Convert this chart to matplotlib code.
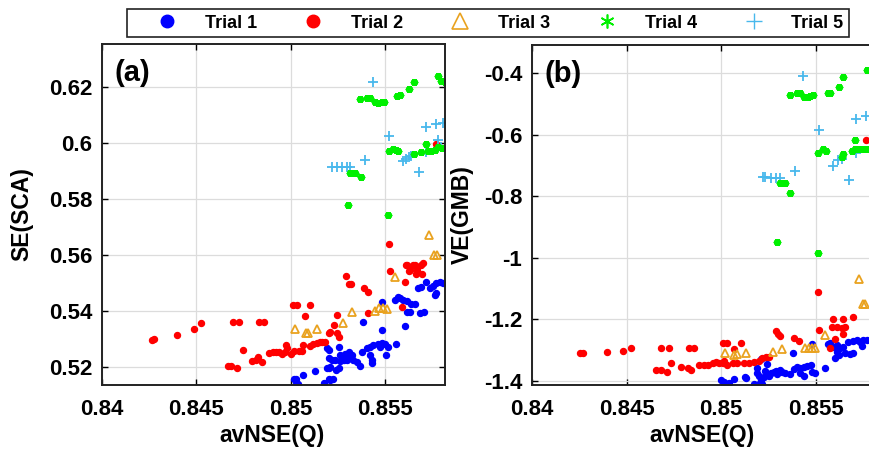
import matplotlib
matplotlib.use("Agg")
import matplotlib.pyplot as plt
from matplotlib.lines import Line2D
from matplotlib.ticker import FuncFormatter

plt.rcParams['font.family'] = ['Liberation Sans', 'DejaVu Sans']
plt.rcParams['font.weight'] = 'bold'

# ---- panel (a): avNSE(Q) vs SE(SCA) ----
t1a_x = [0.85018, 0.85026, 0.8503, 0.8504, 0.85063, 0.85128, 0.85175, 0.85202, 0.85202, 0.85202, 0.85202,
         0.85211, 0.85225, 0.85193, 0.85211, 0.85242, 0.85254,
         0.8522, 0.85237, 0.8526, 0.85272, 0.85284, 0.85298, 0.85316, 0.85333, 0.85351, 0.85365,
         0.85193, 0.85254, 0.85263, 0.85289, 0.85307, 0.85324,
         0.85377, 0.85404, 0.85421, 0.85439, 0.85465, 0.85483, 0.855, 0.85517, 0.85474,
         0.85421, 0.8543, 0.8543, 0.85483, 0.85505, 0.85558, 0.85386, 0.85483, 0.85605,
         0.85553, 0.8557, 0.85579, 0.85596, 0.85614, 0.85617, 0.85632, 0.8564, 0.85658, 0.85684, 0.85705,
         0.85675, 0.85693, 0.85716, 0.85737, 0.85754, 0.85772, 0.85789, 0.85807, 0.85763, 0.85772]
t1a_y = [0.5158, 0.5155, 0.5140, 0.5140, 0.5170, 0.5186, 0.5143, 0.5155, 0.5194, 0.5230, 0.5260,
         0.5152, 0.5155, 0.5194, 0.5200, 0.5188, 0.5194,
         0.5226, 0.5224, 0.5221, 0.5224, 0.5226, 0.5226, 0.5236, 0.5224, 0.5218, 0.5203,
         0.5266, 0.5269, 0.5242, 0.5245, 0.5254, 0.5242,
         0.5254, 0.5266, 0.5271, 0.5278, 0.5281, 0.5286, 0.5280, 0.5271, 0.5271,
         0.5242, 0.5224, 0.5212, 0.5331, 0.5242, 0.5281, 0.5361, 0.5432, 0.5345,
         0.5438, 0.5450, 0.5444, 0.5438, 0.5436, 0.5396, 0.5396, 0.5426, 0.5424, 0.5391, 0.5396,
         0.5480, 0.5484, 0.5504, 0.5480, 0.5488, 0.5500, 0.5504, 0.5500, 0.5456, 0.5462]

t2a_x = [0.84263, 0.84277, 0.844, 0.84486, 0.84526, 0.84696, 0.84724, 0.84833, 0.8486, 0.84667, 0.84684,
         0.84716, 0.84746, 0.84793, 0.84816, 0.84828, 0.84846,
         0.84886, 0.84904, 0.84921, 0.84939, 0.84956, 0.84968, 0.84982, 0.84974, 0.85, 0.85018,
         0.85044, 0.85061, 0.85067, 0.85105, 0.85119, 0.8514, 0.85167, 0.85184, 0.85202,
         0.85014, 0.85035, 0.85105, 0.85075,
         0.85295, 0.85309, 0.85321, 0.85389, 0.85412, 0.85412, 0.85246, 0.85228, 0.85211, 0.85246, 0.85254, 0.85158,
         0.85523, 0.85526, 0.85588, 0.85605, 0.8561, 0.85635, 0.85658, 0.85693, 0.85667, 0.85698, 0.85702,
         0.85617, 0.85646, 0.85628, 0.85663, 0.85772]
t2a_y = [0.5295, 0.5298, 0.5313, 0.5334, 0.5355, 0.5360, 0.5360, 0.5360, 0.5360, 0.5204, 0.5204,
         0.5194, 0.5260, 0.5221, 0.5226, 0.5234, 0.5218,
         0.5250, 0.5254, 0.5254, 0.5254, 0.5245, 0.5254, 0.5266, 0.5277, 0.5245, 0.5257,
         0.5257, 0.5257, 0.5277, 0.5274, 0.5281, 0.5286, 0.5289, 0.5289, 0.5321,
         0.5420, 0.5420, 0.5420, 0.5381,
         0.5524, 0.5495, 0.5495, 0.5480, 0.5468, 0.5393, 0.5385, 0.5349, 0.5325, 0.5319, 0.5307, 0.5289,
         0.5637, 0.5543, 0.5414, 0.5504, 0.5563, 0.5545, 0.5563, 0.5563, 0.5545, 0.5533, 0.5569,
         0.5563, 0.5563, 0.5543, 0.5533, 0.5995]

t3a_x = [0.85733, 0.8576, 0.85775, 0.85554, 0.85447, 0.8547, 0.85491, 0.85509, 0.85324, 0.85277,
         0.85023, 0.85079, 0.85093, 0.8514]
t3a_y = [0.5671, 0.5599, 0.5599, 0.5521, 0.5399, 0.5409, 0.5409, 0.5406, 0.5396, 0.5357,
         0.5334, 0.5319, 0.5321, 0.5335]

t4a_x = [0.85365, 0.85404, 0.85418, 0.85447, 0.85465, 0.85483, 0.85495, 0.85565, 0.85579, 0.85628, 0.85654,
         0.8578, 0.85798, 0.85816,
         0.85312, 0.85342, 0.85372, 0.85302, 0.85517,
         0.85523, 0.8554, 0.85558, 0.8557, 0.85654, 0.85693, 0.85716, 0.85728, 0.85746, 0.85763, 0.8578, 0.85804]
t4a_y = [0.6155, 0.6161, 0.6159, 0.6146, 0.6144, 0.6145, 0.6145, 0.6168, 0.6170, 0.6191, 0.6218,
         0.6238, 0.6221, 0.6218,
         0.5894, 0.5894, 0.5879, 0.5777, 0.5742,
         0.5971, 0.5978, 0.5974, 0.5971, 0.5960, 0.5968, 0.5996, 0.5972, 0.5972, 0.5974, 0.5984, 0.5980]

t5a_x = [0.85439, 0.85221, 0.85247, 0.85274, 0.853, 0.85316, 0.85395, 0.85523, 0.85596, 0.8561,
         0.85628, 0.8564, 0.85681, 0.85716, 0.85772, 0.85807, 0.8578, 0.85716, 0.85795]
t5a_y = [0.6218, 0.5914, 0.5914, 0.5914, 0.5914, 0.5914, 0.5938, 0.6024, 0.5935, 0.5941,
         0.5948, 0.5954, 0.5896, 0.6055, 0.6069, 0.6071, 0.6010, 0.5968, 0.5984]

# ---- panel (b): avNSE(Q) vs VE(GMB) ----
t1b_x = [0.84998, 0.85015, 0.85042, 0.85068, 0.85124, 0.85133, 0.85172, 0.85198, 0.85216,
         0.85191, 0.85199, 0.85208, 0.85226, 0.85243, 0.85252, 0.85264, 0.85278, 0.85292, 0.85309,
         0.85322, 0.85339, 0.85296, 0.85234, 0.85191,
         0.85243, 0.85212, 0.8538,
         0.85366, 0.85383, 0.85401, 0.85418, 0.85436, 0.85453, 0.85474, 0.8548, 0.8548, 0.85497, 0.85418, 0.85436,
         0.85549, 0.85562, 0.85576, 0.85593, 0.85611, 0.85628, 0.85611, 0.85602, 0.85625, 0.85646, 0.85672,
         0.85698, 0.85716, 0.85733, 0.8575, 0.85768, 0.85742, 0.85698, 0.85681, 0.85655]
t1b_y = [-1.3977, -1.4032, -1.4085, -1.3945, -1.3870, -1.3922, -1.4120, -1.4107, -1.4107,
         -1.3740, -1.3847, -1.3977, -1.3890, -1.3782, -1.3847, -1.3740, -1.3707, -1.3675, -1.3652,
         -1.3707, -1.3759, -1.3782, -1.3675, -1.3597,
         -1.3457, -1.3304, -1.3089,
         -1.3782, -1.3629, -1.3545, -1.3597, -1.3545, -1.3522, -1.3490, -1.2807, -1.3707, -1.3759, -1.3759, -1.3847,
         -1.3597, -1.2807, -1.2764, -1.2894, -1.2839, -1.2946, -1.3057, -1.3272, -1.3164, -1.2894, -1.2732,
         -1.2699, -1.2676, -1.2732, -1.2676, -1.2676, -1.2871, -1.3109, -1.3132, -1.3089]

t2b_x = [0.84254, 0.84271, 0.84394, 0.84482, 0.84522, 0.84683, 0.84726, 0.84831, 0.84858, 0.84657, 0.84683,
         0.84714, 0.84735, 0.84788, 0.84823, 0.8484,
         0.84884, 0.8491, 0.84928, 0.84954, 0.84972, 0.84989, 0.85007, 0.85015, 0.85033, 0.8506, 0.85086,
         0.85121, 0.85147, 0.85173, 0.852, 0.85218, 0.85235, 0.85252,
         0.85012, 0.85033, 0.85068, 0.85103,
         0.85287, 0.85299, 0.85313, 0.85387, 0.85409, 0.85514, 0.85519, 0.85576, 0.85602,
         0.85584, 0.8561, 0.85642, 0.85654, 0.85637, 0.85593, 0.85646, 0.85698, 0.85765]
t2b_y = [-1.3109, -1.3109, -1.3057, -1.3024, -1.2946, -1.2946, -1.2946, -1.2946, -1.2946, -1.3652, -1.3652,
         -1.3707, -1.3434, -1.3564, -1.3597, -1.3652,
         -1.3490, -1.3490, -1.3490, -1.3434, -1.3382, -1.3434, -1.3415, -1.3350, -1.3490, -1.3434, -1.3434,
         -1.3434, -1.3415, -1.3382, -1.3350, -1.3272, -1.3220, -1.3239,
         -1.2784, -1.2784, -1.2979, -1.2764,
         -1.2374, -1.2481, -1.2546, -1.2621, -1.2699, -1.1106, -1.2351, -1.2946, -1.2654,
         -1.2244, -1.2244, -1.2003, -1.2244, -1.2296, -1.2003, -1.2481, -1.1938, -0.6172]

t3b_x = [0.85728, 0.8575, 0.85759, 0.85549, 0.85444, 0.85462, 0.85479, 0.85497, 0.85322, 0.85275,
         0.85129, 0.85021, 0.85068, 0.85082]
t3b_y = [-1.0693, -1.1506, -1.1506, -1.2514, -1.2946, -1.2946, -1.2946, -1.2946, -1.2969, -1.3077,
         -1.3109, -1.3109, -1.3164, -1.3132]

t4b_x = [0.85362, 0.85401, 0.85415, 0.85439, 0.85457, 0.85471, 0.85485, 0.85562, 0.85576, 0.85624, 0.85646,
         0.85768, 0.8580,
         0.85313, 0.85339, 0.85366, 0.85514, 0.85537, 0.85555, 0.85646, 0.85637,
         0.85689, 0.85707, 0.85733, 0.85754, 0.85777, 0.85798, 0.85707, 0.85296, 0.85511]
t4b_y = [-0.4709, -0.4654, -0.4634, -0.4764, -0.4764, -0.4741, -0.4719, -0.4654, -0.4634, -0.4439, -0.4133,
         -0.3896, -0.4100,
         -0.7580, -0.7580, -0.7906, -0.6605, -0.6475, -0.6520, -0.6628, -0.6735,
         -0.6520, -0.6475, -0.6475, -0.6475, -0.6475, -0.6450, -0.6172, -0.9500, -0.9857]

t5b_x = [0.85432, 0.85222, 0.85234, 0.85261, 0.85287, 0.85313, 0.85388, 0.85518, 0.85593, 0.85619,
         0.85637, 0.85677, 0.8571, 0.85765, 0.85712]
t5b_y = [-0.4091, -0.7366, -0.7386, -0.7398, -0.7398, -0.7398, -0.7170, -0.5847, -0.7008, -0.6823,
         -0.6800, -0.7473, -0.5500, -0.5390, -0.6585]

labels = ['Trial 1', 'Trial 2', 'Trial 3', 'Trial 4', 'Trial 5']
x_ticks = [0.84, 0.845, 0.85, 0.855]

c_blue = '#0000FF'
c_red = '#FF0000'
c_orange = '#E9A21F'
c_green = '#00F000'
c_cyan = '#48B8EC'
asterisk = (6, 2, 0)


def draw_panel(ax, data, ylim, yticks, ylabel, tag, ylab_x):
    (x1, y1), (x2, y2), (x3, y3), (x4, y4), (x5, y5) = data
    ax.plot(x1, y1, ls='none', marker='o', ms=4.3, color=c_blue, mec=c_blue)
    ax.plot(x2, y2, ls='none', marker='o', ms=4.3, color=c_red, mec=c_red)
    ax.plot(x5, y5, ls='none', marker='+', ms=6.5, mew=1.3, color=c_cyan)
    ax.plot(x4, y4, ls='none', marker=asterisk, ms=5, mew=2.6, color=c_green)
    ax.plot(x3, y3, ls='none', marker='^', ms=6, mfc='none', mew=1.3, color=c_orange)
    ax.set_xlim(0.84003, 0.85818)
    ax.set_ylim(*ylim)
    ax.set_xticks(x_ticks)
    ax.set_yticks(yticks)
    fmt = FuncFormatter(lambda v, p: '%g' % round(v, 4))
    ax.xaxis.set_major_formatter(fmt)
    ax.yaxis.set_major_formatter(fmt)
    ax.grid(True, color='#DCDCDC', lw=0.9)
    ax.set_axisbelow(True)
    ax.tick_params(direction='in', length=4, width=1, labelsize=16, top=True, right=True)
    ax.tick_params(axis='x', pad=10)
    ax.tick_params(axis='y', pad=7)
    for s in ax.spines.values():
        s.set_linewidth(1.4)
        s.set_color('#222222')
    ax.set_xlabel('avNSE(Q)', fontsize=16.5, fontweight='bold')
    ax.set_ylabel(ylabel, fontsize=16.5, fontweight='bold')
    # label anchors: top of xlabel, right edge of the rotated ylabel
    ax.xaxis.set_label_coords(0.495, -0.115)
    ax.yaxis.set_label_coords(ylab_x, 0.5)
    ax.text(0.036, 0.955, tag, transform=ax.transAxes, fontsize=21, fontweight='bold',
            va='top', ha='left')


fig = plt.figure(figsize=(8.69, 4.49), dpi=100)
ax_a = fig.add_axes([102 / 869, 64 / 449, 343 / 869, 341 / 449])
ax_b = fig.add_axes([532 / 869, 64 / 449, 344 / 869, 340 / 449])

draw_panel(ax_a, [(t1a_x, t1a_y), (t2a_x, t2a_y), (t3a_x, t3a_y), (t4a_x, t4a_y), (t5a_x, t5a_y)],
           (0.5135, 0.6353), [0.52, 0.54, 0.56, 0.58, 0.6, 0.62], 'SE(SCA)', '(a)', -0.2)
draw_panel(ax_b, [(t1b_x, t1b_y), (t2b_x, t2b_y), (t3b_x, t3b_y), (t4b_x, t4b_y), (t5b_x, t5b_y)],
           (-1.414, -0.308), [-1.4, -1.2, -1, -0.8, -0.6, -0.4], 'VE(GMB)', '(b)', -0.17)

handles = [
    Line2D([], [], ls='none', marker='o', ms=9, color=c_blue),
    Line2D([], [], ls='none', marker='o', ms=9, color=c_red),
    Line2D([], [], ls='none', marker='^', ms=11, mfc='none', mew=1.2, color=c_orange),
    Line2D([], [], ls='none', marker=asterisk, ms=10, mew=1.2, color=c_green),
    Line2D([], [], ls='none', marker='+', ms=12, mew=1.0, color=c_cyan),
]
leg = fig.legend(handles, labels, ncol=5, loc='center', mode='expand',
                 bbox_to_anchor=(127 / 869, 1 - 38 / 449, 722 / 869, 30 / 449), borderaxespad=0,
                 prop={'size': 13, 'weight': 'bold'}, handlelength=3.8, handletextpad=0.2,
                 columnspacing=1.0, fancybox=False, framealpha=1, borderpad=0.3)
leg.get_frame().set_edgecolor('#222222')
leg.get_frame().set_linewidth(1.2)

fig.savefig('out.png', dpi=100)
